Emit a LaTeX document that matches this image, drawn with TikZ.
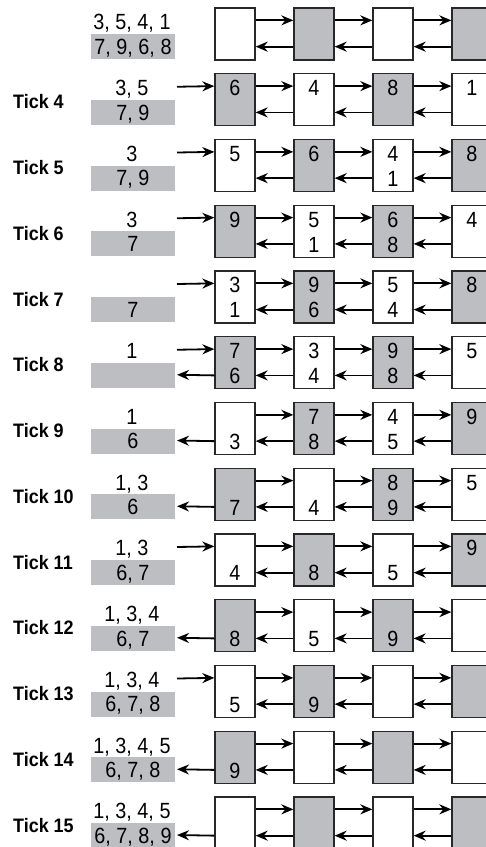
\documentclass[tikz,border=0pt]{standalone}
\usepackage{fontspec}
\setmainfont{Liberation Sans}[FakeStretch=0.9]
\newfontfamily\tickfont{Liberation Sans}[FakeStretch=0.92]
\usetikzlibrary{arrows.meta}
\definecolor{lanegray}{RGB}{189,190,193}
\definecolor{edgegray}{RGB}{40,40,40}
\tikzset{
  cell/.style ={draw=edgegray, line width=1.3pt, minimum width=40pt,
                minimum height=52pt, inner sep=0pt},
  num/.style  ={font=\fontsize{22}{24}\selectfont, inner sep=0pt,
                text height=15.7pt, text depth=0pt},
  tag/.style  ={font=\tickfont\bfseries\fontsize{19.5}{21}\selectfont, inner sep=0pt,
                text height=14pt, text depth=0pt, anchor=west},
  pool/.style ={fill=lanegray, minimum width=84pt, minimum height=25pt, inner sep=0pt,
                font=\fontsize{22}{24}\selectfont, text height=15.7pt, text depth=0pt},
  arr/.style  ={-{Stealth[length=12pt, width=10pt]}, line width=1.8pt},
}

\begin{document}
\begin{tikzpicture}[x=1pt, y=-1pt]
  \clip (0,0) rectangle (486,847);
  \foreach \row/\lbl/\upq/\dnq/\inq/\outq/\cells in {
      0/{}/{3, 5, 4, 1}/{7, 9, 6, 8}/0/0/{{}/{},{}/{},{}/{},{}/{}},
      1/{Tick 4}/{3, 5}/{7, 9}/1/0/{6/{},4/{},8/{},1/{}},
      2/{Tick 5}/{3}/{7, 9}/1/0/{5/{},6/{},4/1,8/{}},
      3/{Tick 6}/{3}/{7}/1/0/{9/{},5/1,6/8,4/{}},
      4/{Tick 7}/{}/{7}/1/0/{3/1,9/6,5/4,8/{}},
      5/{Tick 8}/{1}/{}/1/1/{7/6,3/4,9/8,5/{}},
      6/{Tick 9}/{1}/{6}/0/1/{{}/3,7/8,4/5,9/{}},
      7/{Tick 10}/{1, 3}/{6}/0/1/{{}/7,{}/4,8/9,5/{}},
      8/{Tick 11}/{1, 3}/{6, 7}/1/0/{{}/4,{}/8,{}/5,9/{}},
      9/{Tick 12}/{1, 3, 4}/{6, 7}/0/1/{{}/8,{}/5,{}/9,{}/{}},
      10/{Tick 13}/{1, 3, 4}/{6, 7, 8}/1/0/{{}/5,{}/9,{}/{},{}/{}},
      11/{Tick 14}/{1, 3, 4, 5}/{6, 7, 8}/0/1/{{}/9,{}/{},{}/{},{}/{}},
      12/{Tick 15}/{1, 3, 4, 5}/{6, 7, 8, 9}/0/1/{{}/{},{}/{},{}/{},{}/{}}%
  }{
    \pgfmathsetmacro\rowy{8+65.75*\row}
    % left side: tick name, waiting and queued values
    \node[tag]  (k\row) at (13, \rowy+28)   {\lbl};
    \node[num]  (p\row) at (132, \rowy+14)  {\upq};
    \node[pool] (q\row) at (133, \rowy+38.5) {\dnq};
    % the four cells of the list
    \foreach \hi/\lo [count=\col] in \cells {
      \pgfmathtruncatemacro\parity{mod(\row+\col,2)}
      \ifnum\parity=0 \def\tone{lanegray}\else\def\tone{white}\fi
      \node[cell, fill=\tone] (b\row-\col) at (156+79*\col, \rowy+26) {};
      \node[num] (t\row-\col) at (156+79*\col, \rowy+14) {\hi};
      \node[num] (u\row-\col) at (156+79*\col, \rowy+39) {\lo};
    }
    \foreach \col [evaluate=\col as \nxt using int(\col+1)] in {1,2,3} {
      \draw[arr] ([yshift=-13pt]b\row-\col.north east) -- ([yshift=-13pt]b\row-\nxt.north west);
      \draw[arr] ([yshift=14pt]b\row-\nxt.south west) -- ([yshift=14pt]b\row-\col.south east);
    }
    \ifnum\inq=1
      \coordinate (in\row) at (177, \rowy+13);
      \draw[arr] (in\row) -- ([yshift=-13pt]b\row-1.north west);
    \fi
    \ifnum\outq=1
      \coordinate (out\row) at (177, \rowy+38);
      \draw[arr] ([yshift=14pt]b\row-1.south west) -- (out\row);
    \fi
  }
\end{tikzpicture}
\end{document}
